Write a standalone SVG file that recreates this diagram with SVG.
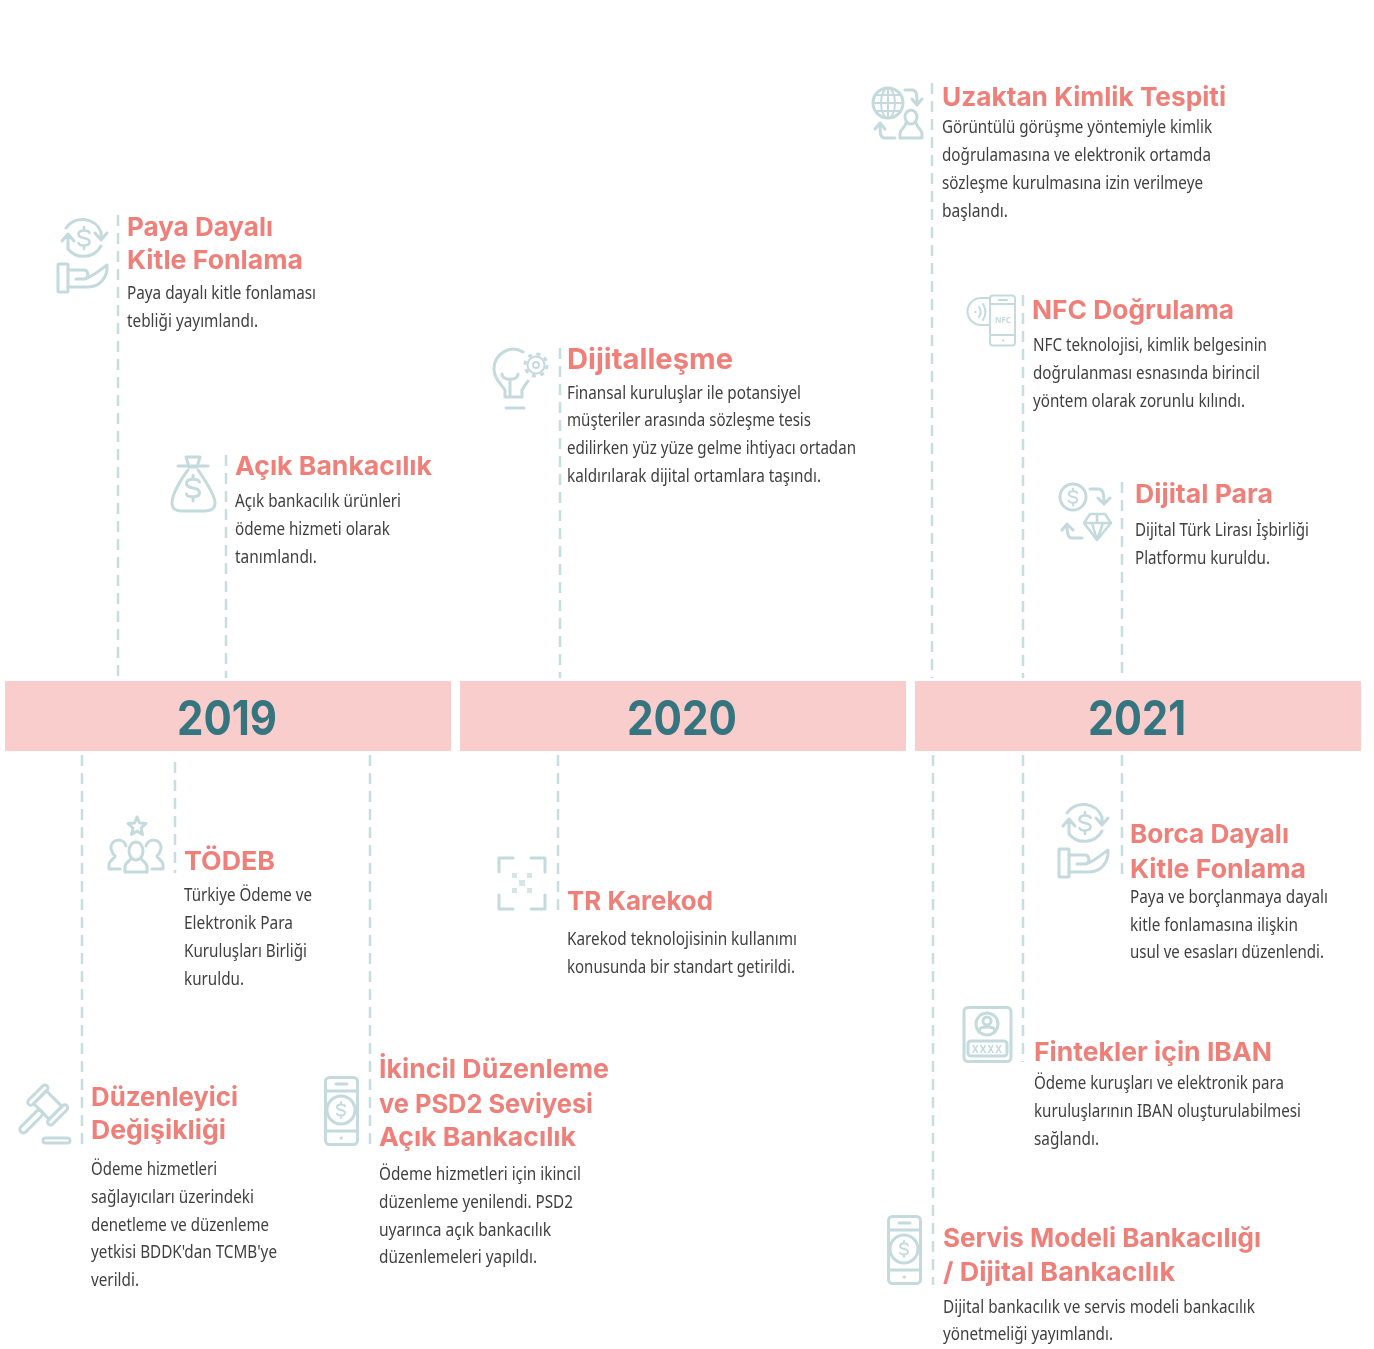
<svg xmlns="http://www.w3.org/2000/svg" xmlns:xlink="http://www.w3.org/1999/xlink" width="1374" height="1349" viewBox="0 0 1374 1349">
<style>
.h{font-family:Inter,"Open Sans",sans-serif;font-weight:700;font-size:26px;fill:#ee7f79;transform:translateY(-1.2px)}
.b{font-family:"Noto Sans","Open Sans",sans-serif;font-size:18px;fill:#3f3f3f;transform:translateY(.2px)}
.y{font-family:Inter,"Open Sans",sans-serif;font-weight:700;font-size:48px;fill:#35747f}
.bar{fill:#f9cdcb}
.c line{stroke:#c7dde0;stroke-width:2.5;stroke-dasharray:11 7}
.i{fill:none;stroke:#c4dadd;stroke-width:3;stroke-linecap:round;stroke-linejoin:round}
.t{font-family:"Noto Sans",sans-serif;font-weight:700;fill:#c4dadd}
</style>
<defs>
<filter id="soft" x="0" y="0" width="100%" height="100%"><feGaussianBlur stdDeviation="0.55"/></filter>
<path id="dollar" d="M6.5-6C5-10-6.5-10-6.5-4.5C-6.5 2 6.5-2 6.5 4.5C6.5 10-5 10-6.500 6M0-13V-9M0 9V13"/>
<g id="fund">
<path d="M66 228A20 20 0 0 1 101 232V240M95 233L101 240L107 233M101 246A20 20 0 0 1 68 249V234M62 241L68 234L74 241"/>
<use xlink:href="#dollar" href="#dollar" transform="translate(84 238) scale(.85)"/>
<rect x="58" y="264" width="10" height="28" rx="1"/>
<path d="M68 270H84C88 270 90 277 85 279H76M85 279C92 277 100 270 107 265C108 277 100 287 88 287H68"/>
</g>
<g id="phone">
<rect x="325.500" y="1077.500" width="32" height="67" rx="4"/>
<path d="M326 1091H357M326 1131H357M336 1084H347M341 1138H341.500"/>
<circle cx="341" cy="1110" r="14"/>
<use xlink:href="#dollar" href="#dollar" transform="translate(341 1110) scale(.62)"/>
</g>
</defs>
<rect width="1374" height="1349" fill="#ffffff"/>
<g filter="url(#soft)">
<g id="connectors" class="c">
<line x1="118" y1="215" x2="118" y2="678"/>
<line x1="226" y1="455" x2="226" y2="678"/>
<line x1="560" y1="348" x2="560" y2="678"/>
<line x1="932" y1="83" x2="932" y2="678"/>
<line x1="1023" y1="295" x2="1023" y2="678"/>
<line x1="1122" y1="482" x2="1122" y2="678"/>
<line x1="82" y1="755" x2="82" y2="1145"/>
<line x1="175" y1="762" x2="175" y2="873"/>
<line x1="370" y1="755" x2="370" y2="1145"/>
<line x1="558" y1="755" x2="558" y2="912"/>
<line x1="933" y1="755" x2="933" y2="1285"/>
<line x1="1023" y1="755" x2="1023" y2="1062"/>
<line x1="1122" y1="755" x2="1122" y2="880"/>
</g>
<g id="y2019"><rect class="bar" x="5" y="681" width="446" height="70"/><text class="y" x="177" y="735" textLength="100" lengthAdjust="spacingAndGlyphs">2019</text></g>
<g id="y2020"><rect class="bar" x="460" y="681" width="446" height="70"/><text class="y" x="627" y="735" textLength="110" lengthAdjust="spacingAndGlyphs">2020</text></g>
<g id="y2021"><rect class="bar" x="915" y="681" width="446" height="70"/><text class="y" x="1088" y="735" textLength="98" lengthAdjust="spacingAndGlyphs">2021</text></g>

<g id="paya">
<use class="i" xlink:href="#fund" href="#fund"/>
<text class="h" x="127" y="237" textLength="146" lengthAdjust="spacingAndGlyphs">Paya Dayalı</text>
<text class="h" x="127" y="270" textLength="176" lengthAdjust="spacingAndGlyphs">Kitle Fonlama</text>
<text class="b" x="127" y="299" textLength="189" lengthAdjust="spacingAndGlyphs">Paya dayalı kitle fonlaması</text>
<text class="b" x="127" y="327" textLength="131" lengthAdjust="spacingAndGlyphs">tebliği yayımlandı.</text>
</g>
<g id="acik">
<g class="i"><path d="M186 457H200L197 467H189ZM178 466H208M188 470C180 480 172 495 172 503C172 509 177 511 181 511H205C210 511 215 509 215 503C215 495 205 480 198 470"/><use xlink:href="#dollar" href="#dollar" transform="translate(193 488)"/></g>
<text class="h" x="235" y="476" textLength="197" lengthAdjust="spacingAndGlyphs">Açık Bankacılık</text>
<text class="b" x="235" y="507" textLength="166" lengthAdjust="spacingAndGlyphs">Açık bankacılık ürünleri</text>
<text class="b" x="235" y="535" textLength="155" lengthAdjust="spacingAndGlyphs">ödeme hizmeti olarak</text>
<text class="b" x="235" y="563" textLength="82" lengthAdjust="spacingAndGlyphs">tanımlandı.</text>
</g>
<g id="dijital">
<g class="i"><path d="M523 352C510 344 494 354 494 369C494 378 500 383 505 390V397H522V390C524 386 526 384 528 381M510 396V381M502 374C502 381 518 381 518 374M506 408H524"/><circle cx="536" cy="365" r="8.500" stroke-width="2"/><circle cx="536" cy="365" r="3" stroke-width="2"/><circle cx="536" cy="365" r="11" stroke-width="3" stroke-dasharray="4 4.640" stroke-linecap="butt"/></g>
<text class="h" x="567" y="370" style="font-size:29px" textLength="166" lengthAdjust="spacingAndGlyphs">Dijitalleşme</text>
<text class="b" x="567" y="399" textLength="234" lengthAdjust="spacingAndGlyphs">Finansal kuruluşlar ile potansiyel</text>
<text class="b" x="567" y="426" textLength="244" lengthAdjust="spacingAndGlyphs">müşteriler arasında sözleşme tesis</text>
<text class="b" x="567" y="454" textLength="289" lengthAdjust="spacingAndGlyphs">edilirken yüz yüze gelme ihtiyacı ortadan</text>
<text class="b" x="567" y="482" textLength="254" lengthAdjust="spacingAndGlyphs">kaldırılarak dijital ortamlara taşındı.</text>
</g>
<g id="uzaktan">
<g class="i"><circle cx="888" cy="103" r="15"/><ellipse cx="888" cy="103" rx="7" ry="15" stroke-width="2"/><path stroke-width="2" d="M888 88V118M873 103H903M875 95H901M875 111H901"/><path d="M905 90H912C917 90 917 95 917 104M912 99L917 105L922 99M895 138H885C880 138 880 133 880 124M875 129L880 123L885 129"/><ellipse cx="911" cy="117" rx="6" ry="7"/><path d="M906 123C905 128 900 129 900 134V138H922V134C922 129 917 128 916 123"/></g>
<text class="h" x="942" y="107" textLength="284" lengthAdjust="spacingAndGlyphs">Uzaktan Kimlik Tespiti</text>
<text class="b" x="942" y="133" textLength="270" lengthAdjust="spacingAndGlyphs">Görüntülü görüşme yöntemiyle kimlik</text>
<text class="b" x="942" y="161" textLength="269" lengthAdjust="spacingAndGlyphs">doğrulamasına ve elektronik ortamda</text>
<text class="b" x="942" y="189" textLength="261" lengthAdjust="spacingAndGlyphs">sözleşme kurulmasına izin verilmeye</text>
<text class="b" x="942" y="217" textLength="66" lengthAdjust="spacingAndGlyphs">başlandı.</text>
</g>
<g id="nfc">
<g class="i" stroke-width="2"><rect x="990" y="295.500" width="25" height="50" rx="3" stroke-width="2"/><path stroke-width="2" d="M990 304H1015M990 335H1015M999 300H1007M1003 340.500H1003.500M990 298H981A13.500 13.500 0 0 0 981 325H990M975 312H975.500M979 307C981 310 981 314 979 317M983 304C986 309 986 315 983 320"/></g>
<text class="t" x="1003" y="323" text-anchor="middle" font-size="8">NFC</text>
<text class="h" x="1032" y="320" textLength="202" lengthAdjust="spacingAndGlyphs">NFC Doğrulama</text>
<text class="b" x="1033" y="351" textLength="234" lengthAdjust="spacingAndGlyphs">NFC teknolojisi, kimlik belgesinin</text>
<text class="b" x="1033" y="379" textLength="227" lengthAdjust="spacingAndGlyphs">doğrulanması esnasında birincil</text>
<text class="b" x="1033" y="407" textLength="212" lengthAdjust="spacingAndGlyphs">yöntem olarak zorunlu kılındı.</text>
</g>
<g id="para">
<g class="i"><circle cx="1073" cy="497" r="13"/><use xlink:href="#dollar" href="#dollar" transform="translate(1073 497) scale(.65)"/><path d="M1090 489H1098C1103 489 1104 493 1104 503M1098 498L1104 504L1110 498M1082 538H1072C1068 538 1067 534 1067 524M1062 530L1067 524L1073 530"/><path stroke-width="2.500" d="M1090 514H1105L1111 523L1097 540L1084 523ZM1084 523H1111M1092 523L1097 540L1103 523M1097 514V523"/></g>
<text class="h" x="1135" y="504" textLength="138" lengthAdjust="spacingAndGlyphs">Dijital Para</text>
<text class="b" x="1135" y="536" textLength="174" lengthAdjust="spacingAndGlyphs">Dijital Türk Lirası İşbirliği</text>
<text class="b" x="1135" y="564" textLength="135" lengthAdjust="spacingAndGlyphs">Platformu kuruldu.</text>
</g>
<g id="todeb">
<g class="i" stroke-width="2.500"><path d="M137 817L139.500 823L146 823.500L141 828L142.500 834.500L137 831L131.500 834.500L133 828L128 823.500L134.500 823Z"/><ellipse cx="136" cy="851" rx="7" ry="9"/><path d="M131 858C131 861 125 862 125 867V872H147V867C147 862 141 861 141 858"/><path d="M126 846C124 838 112 838 111 847C111 851 113 854 115 856C115 859 109 860 109 865V869H120M146 846C148 838 160 838 161 847C161 851 159 854 157 856C157 859 163 860 163 865V869H152"/></g>
<text class="h" x="184" y="871" textLength="91" lengthAdjust="spacingAndGlyphs">TÖDEB</text>
<text class="b" x="184" y="901" textLength="128" lengthAdjust="spacingAndGlyphs">Türkiye Ödeme ve</text>
<text class="b" x="184" y="929" textLength="109" lengthAdjust="spacingAndGlyphs">Elektronik Para</text>
<text class="b" x="184" y="957" textLength="123" lengthAdjust="spacingAndGlyphs">Kuruluşları Birliği</text>
<text class="b" x="184" y="985" textLength="60" lengthAdjust="spacingAndGlyphs">kuruldu.</text>
</g>
<g id="karekod">
<g class="i" stroke-width="4"><path d="M499 872V858H513M531 858H545V872M545 895V909H531M513 909H499V895"/></g>
<g fill="#d6e6e8"><rect x="512" y="873" width="5" height="5"/><rect x="527" y="873" width="5" height="5"/><rect x="519" y="880" width="6" height="6"/><rect x="512" y="888" width="5" height="5"/><rect x="527" y="888" width="5" height="5"/></g>
<text class="h" x="567" y="911" textLength="146" lengthAdjust="spacingAndGlyphs">TR Karekod</text>
<text class="b" x="567" y="945" textLength="230" lengthAdjust="spacingAndGlyphs">Karekod teknolojisinin kullanımı</text>
<text class="b" x="567" y="973" textLength="228" lengthAdjust="spacingAndGlyphs">konusunda bir standart getirildi.</text>
</g>
<g id="borca">
<use class="i" xlink:href="#fund" href="#fund" transform="translate(1001 585)"/>
<text class="h" x="1130" y="844" textLength="159" lengthAdjust="spacingAndGlyphs">Borca Dayalı</text>
<text class="h" x="1130" y="879" textLength="176" lengthAdjust="spacingAndGlyphs">Kitle Fonlama</text>
<text class="b" x="1130" y="903" textLength="198" lengthAdjust="spacingAndGlyphs">Paya ve borçlanmaya dayalı</text>
<text class="b" x="1130" y="931" textLength="168" lengthAdjust="spacingAndGlyphs">kitle fonlamasına ilişkin</text>
<text class="b" x="1130" y="958" textLength="194" lengthAdjust="spacingAndGlyphs">usul ve esasları düzenlendi.</text>
</g>
<g id="iban">
<g class="i" stroke-width="2"><rect x="964" y="1007.500" width="47" height="54" rx="4"/><circle cx="987" cy="1024" r="11"/><circle cx="987" cy="1021" r="4"/><path d="M979 1032C979 1027 983 1027 987 1027C991 1027 995 1027 995 1032"/><rect x="968" y="1041" width="39" height="15" rx="3"/></g>
<text class="t" x="987.500" y="1053" text-anchor="middle" font-size="10" letter-spacing="1">XXXX</text>
<text class="h" x="1034" y="1062" textLength="238" lengthAdjust="spacingAndGlyphs">Fintekler için IBAN</text>
<text class="b" x="1034" y="1089" textLength="250" lengthAdjust="spacingAndGlyphs">Ödeme kuruşları ve elektronik para</text>
<text class="b" x="1034" y="1117" textLength="267" lengthAdjust="spacingAndGlyphs">kuruluşlarının IBAN oluşturulabilmesi</text>
<text class="b" x="1034" y="1145" textLength="65" lengthAdjust="spacingAndGlyphs">sağlandı.</text>
</g>
<g id="duzenleyici">
<g class="i" stroke-width="2.200"><g transform="translate(47.750 1105) rotate(45)"><rect x="-17" y="-13" width="6" height="26" rx="3"/><rect x="11" y="-13" width="6" height="26" rx="3"/><rect x="-11" y="-9" width="22" height="18"/><rect x="-3.500" y="9" width="7" height="29" rx="3.500"/></g><rect x="43" y="1138" width="27" height="5" rx="2.500"/></g>
<text class="h" x="91" y="1107" textLength="147" lengthAdjust="spacingAndGlyphs">Düzenleyici</text>
<text class="h" x="91" y="1140" textLength="135" lengthAdjust="spacingAndGlyphs">Değişikliği</text>
<text class="b" x="91" y="1175" textLength="126" lengthAdjust="spacingAndGlyphs">Ödeme hizmetleri</text>
<text class="b" x="91" y="1203" textLength="163" lengthAdjust="spacingAndGlyphs">sağlayıcıları üzerindeki</text>
<text class="b" x="91" y="1231" textLength="178" lengthAdjust="spacingAndGlyphs">denetleme ve düzenleme</text>
<text class="b" x="91" y="1258" textLength="186" lengthAdjust="spacingAndGlyphs">yetkisi BDDK'dan TCMB'ye</text>
<text class="b" x="91" y="1286" textLength="48" lengthAdjust="spacingAndGlyphs">verildi.</text>
</g>
<g id="ikincil">
<use class="i" xlink:href="#phone" href="#phone"/>
<text class="h" x="379" y="1079" textLength="230" lengthAdjust="spacingAndGlyphs">İkincil Düzenleme</text>
<text class="h" x="379" y="1114" textLength="214" lengthAdjust="spacingAndGlyphs">ve PSD2 Seviyesi</text>
<text class="h" x="379" y="1147" textLength="197" lengthAdjust="spacingAndGlyphs">Açık Bankacılık</text>
<text class="b" x="379" y="1180" textLength="202" lengthAdjust="spacingAndGlyphs">Ödeme hizmetleri için ikincil</text>
<text class="b" x="379" y="1208" textLength="194" lengthAdjust="spacingAndGlyphs">düzenleme yenilendi. PSD2</text>
<text class="b" x="379" y="1236" textLength="172" lengthAdjust="spacingAndGlyphs">uyarınca açık bankacılık</text>
<text class="b" x="379" y="1263" textLength="158" lengthAdjust="spacingAndGlyphs">düzenlemeleri yapıldı.</text>
</g>
<g id="servis">
<use class="i" xlink:href="#phone" href="#phone" transform="translate(563 139)"/>
<text class="h" x="943" y="1248" textLength="318" lengthAdjust="spacingAndGlyphs">Servis Modeli Bankacılığı</text>
<text class="h" x="943" y="1282" textLength="232" lengthAdjust="spacingAndGlyphs">/ Dijital Bankacılık</text>
<text class="b" x="943" y="1313" textLength="312" lengthAdjust="spacingAndGlyphs">Dijital bankacılık ve servis modeli bankacılık</text>
<text class="b" x="943" y="1340" textLength="170" lengthAdjust="spacingAndGlyphs">yönetmeliği yayımlandı.</text>
</g>
</g>
</svg>
